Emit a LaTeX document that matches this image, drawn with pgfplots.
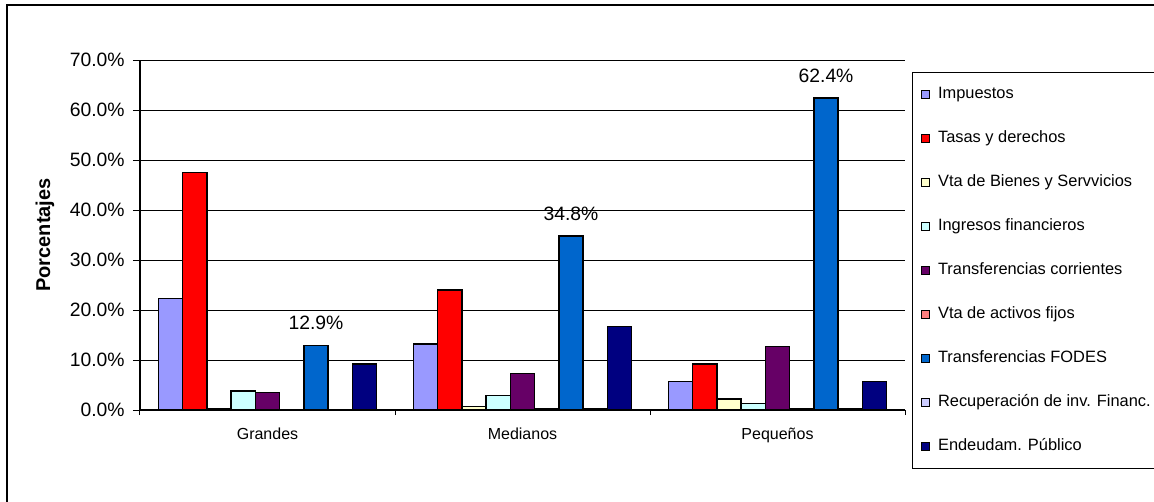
\documentclass[border=0pt]{standalone}
\usepackage{pgfplots}
\pgfplotsset{compat=1.18}
\usepackage{fontspec}
\setmainfont{Liberation Sans}
\definecolor{cImp}{HTML}{9999FF}
\definecolor{cTas}{HTML}{FF0000}
\definecolor{cVtaB}{HTML}{FFFFCC}
\definecolor{cIng}{HTML}{CCFFFF}
\definecolor{cTrc}{HTML}{660066}
\definecolor{cVtaA}{HTML}{FF8080}
\definecolor{cFod}{HTML}{0066CC}
\definecolor{cRec}{HTML}{CCCCFF}
\definecolor{cEnd}{HTML}{000080}
\pgfplotsset{
  mybar/.style={draw=black,
    legend image code/.code={\draw[##1, line width=0.6pt, draw=black] (0pt,0pt) rectangle (6pt,6pt);}},
}
\begin{document}
\begin{tikzpicture}[x=0.75pt,y=0.75pt]
\useasboundingbox (0,0) rectangle (1154,501);
\draw[line width=1.5pt] (7,-10) -- (7,496) -- (1170,496);
\begin{axis}[
  at={(105pt,68.25pt)}, anchor=south west,
  width=573.75pt, height=262.5pt, scale only axis,
  ybar=0pt, bar width=18.2pt,
  every axis plot post/.append style={draw=black, line width=1.15pt},
  xmin=-0.5, xmax=2.5, ymin=0, ymax=70,
  axis x line=bottom, axis y line=left,
  axis line style={-, line width=1pt, black},
  xtick={0,1,2}, xticklabels={Grandes,Medianos,Pequeños},
  minor xtick={-0.5,0.5,1.5,2.5},
  ytick={0,10,20,30,40,50,60,70},
  yticklabels={0.0\%,10.0\%,20.0\%,30.0\%,40.0\%,50.0\%,60.0\%,70.0\%},
  ymajorgrids, grid style={black, line width=0.75pt},
  tick align=outside, major tick length=5.25pt, minor tick length=3.75pt,
  tick style={black, line width=0.75pt},
  major x tick style={draw=none},
  xticklabel style={font=\fontsize{12}{14}\selectfont, yshift=-5pt},
  yticklabel style={font=\fontsize{14.5}{17}\selectfont, xshift=-2.7pt},
  ylabel={Porcentajes},
  ylabel style={at={(axis description cs:-0.1242,0.5)}, anchor=center, font=\bfseries\fontsize{15}{18}\selectfont},
  clip=false,
  legend style={at={(1.0209,0.9257)}, anchor=north west, draw=none, fill=none,
    inner sep=0pt, row sep=21pt, column sep=6pt, cells={anchor=base west},
    nodes={inner sep=0pt, text height=9pt, text depth=3pt, font=\fontsize{12.3}{14}\selectfont}},
]
\addplot[fill=cImp, mybar] coordinates {(0,22.3) (1,13.2) (2,5.7)};
\addplot[fill=cTas, mybar] coordinates {(0,47.5) (1,24.0) (2,9.2)};
\addplot[fill=cVtaB, mybar] coordinates {(0,0.2) (1,0.7) (2,2.2)};
\addplot[fill=cIng, mybar] coordinates {(0,3.8) (1,2.9) (2,1.3)};
\addplot[fill=cTrc, mybar] coordinates {(0,3.5) (1,7.3) (2,12.7)};
\addplot[fill=cVtaA, mybar] coordinates {(0,0.0) (1,0.3) (2,0.3)};
\addplot[fill=cFod, mybar, point meta=explicit symbolic, nodes near coords,
  every node near coord/.append style={font=\fontsize{14.5}{17}\selectfont, anchor=south, inner sep=0pt, yshift=11pt, text=black}]
  coordinates {(0,12.9) [12.9\%] (1,34.8) [34.8\%] (2,62.4) [62.4\%]};
\addplot[fill=cRec, mybar] coordinates {(0,0.0) (1,0.3) (2,0.3)};
\addplot[fill=cEnd, mybar] coordinates {(0,9.2) (1,16.7) (2,5.7)};
\legend{Impuestos,Tasas y derechos,Vta de Bienes y Servvicios,Ingresos financieros,Transferencias corrientes,Vta de activos fijos,Transferencias FODES,Recuperación de inv. Financ.,Endeudam. Público}
\end{axis}
\draw[line width=0.75pt] (1170,33) -- (912,33) -- (912,428) -- (1170,428);
\end{tikzpicture}
\end{document}
